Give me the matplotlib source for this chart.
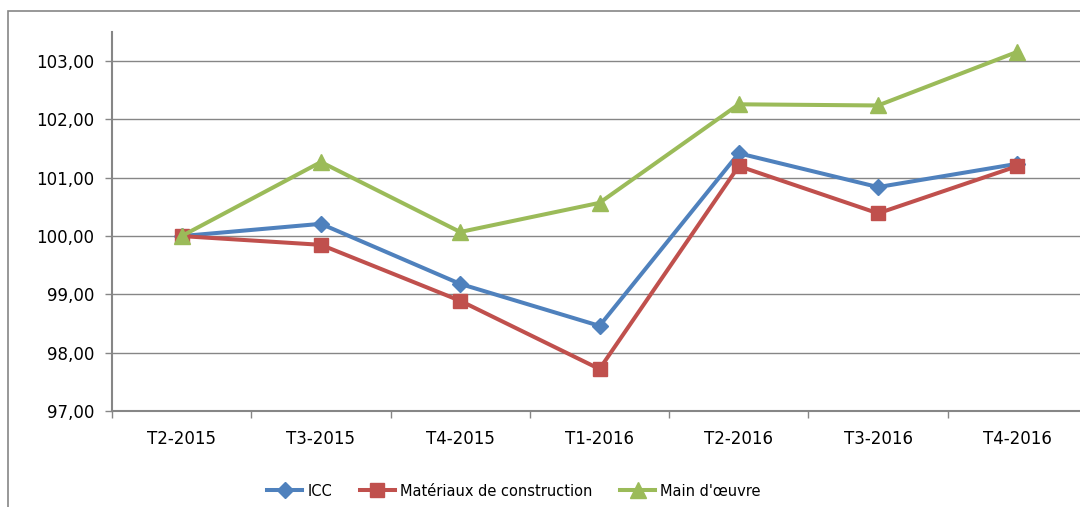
import matplotlib
matplotlib.use("Agg")
from matplotlib import pyplot as plt
from matplotlib.patches import Rectangle
from matplotlib.ticker import FuncFormatter
import numpy as np

# data
periods = ["T2-2015", "T3-2015", "T4-2015", "T1-2016", "T2-2016", "T3-2016", "T4-2016"]
icc = [100.00, 100.21, 99.18, 98.46, 101.42, 100.84, 101.24]
materiaux = [100.00, 99.85, 98.89, 97.72, 101.20, 100.39, 101.20]
main_oeuvre = [100.00, 101.27, 100.07, 100.57, 102.26, 102.24, 103.16]

GRAY = "#868686"

fig = plt.figure(figsize=(10.8, 5.07), dpi=100)
# outer chart border
fig.patches.append(Rectangle((8 / 1080, -0.05), 1.1, 1 - 11 / 507 + 0.05,
                             transform=fig.transFigure, fill=False,
                             edgecolor=GRAY, linewidth=1.2))

ax = fig.add_axes([112 / 1080, 96 / 507, 975 / 1080, 379 / 507])
x = np.arange(len(periods))

ax.plot(x, icc, color="#4F81BD", lw=2.9, marker="D", ms=8.5, label="ICC")
ax.plot(x, materiaux, color="#C0504D", lw=2.9, marker="s", ms=10.5,
        label="Matériaux de construction")
ax.plot(x, main_oeuvre, color="#9BBB59", lw=2.9, marker="^", ms=11,
        label="Main d'œuvre")

ax.set_xlim(-0.5, len(periods) - 0.5)
ax.set_ylim(97, 103.5)
ax.set_yticks(np.arange(97, 104, 1))
ax.yaxis.set_major_formatter(FuncFormatter(lambda v, p: f"{v:.2f}".replace(".", ",")))
ax.grid(axis="y", color=GRAY, lw=1)
ax.set_axisbelow(True)

ax.set_xticks(x)
ax.set_xticklabels(periods)
ax.set_xticks(np.arange(-0.5, len(periods), 1), minor=True)
ax.tick_params(axis="x", which="major", length=0, pad=14, labelsize=12)
ax.tick_params(axis="x", which="minor", length=5, color=GRAY, width=1)
ax.tick_params(axis="y", length=5, color=GRAY, width=1, pad=8, labelsize=12)

for s in ["top", "right"]:
    ax.spines[s].set_visible(False)
for s in ["left", "bottom"]:
    ax.spines[s].set_color(GRAY)
    ax.spines[s].set_linewidth(1.5)

fig.legend(loc="center", bbox_to_anchor=(514 / 1080, 1 - 491 / 507), ncol=3,
           frameon=False, fontsize=10.5, handlelength=2.4, columnspacing=1.9,
           handletextpad=0.35)

fig.savefig("out.png", dpi=100)
